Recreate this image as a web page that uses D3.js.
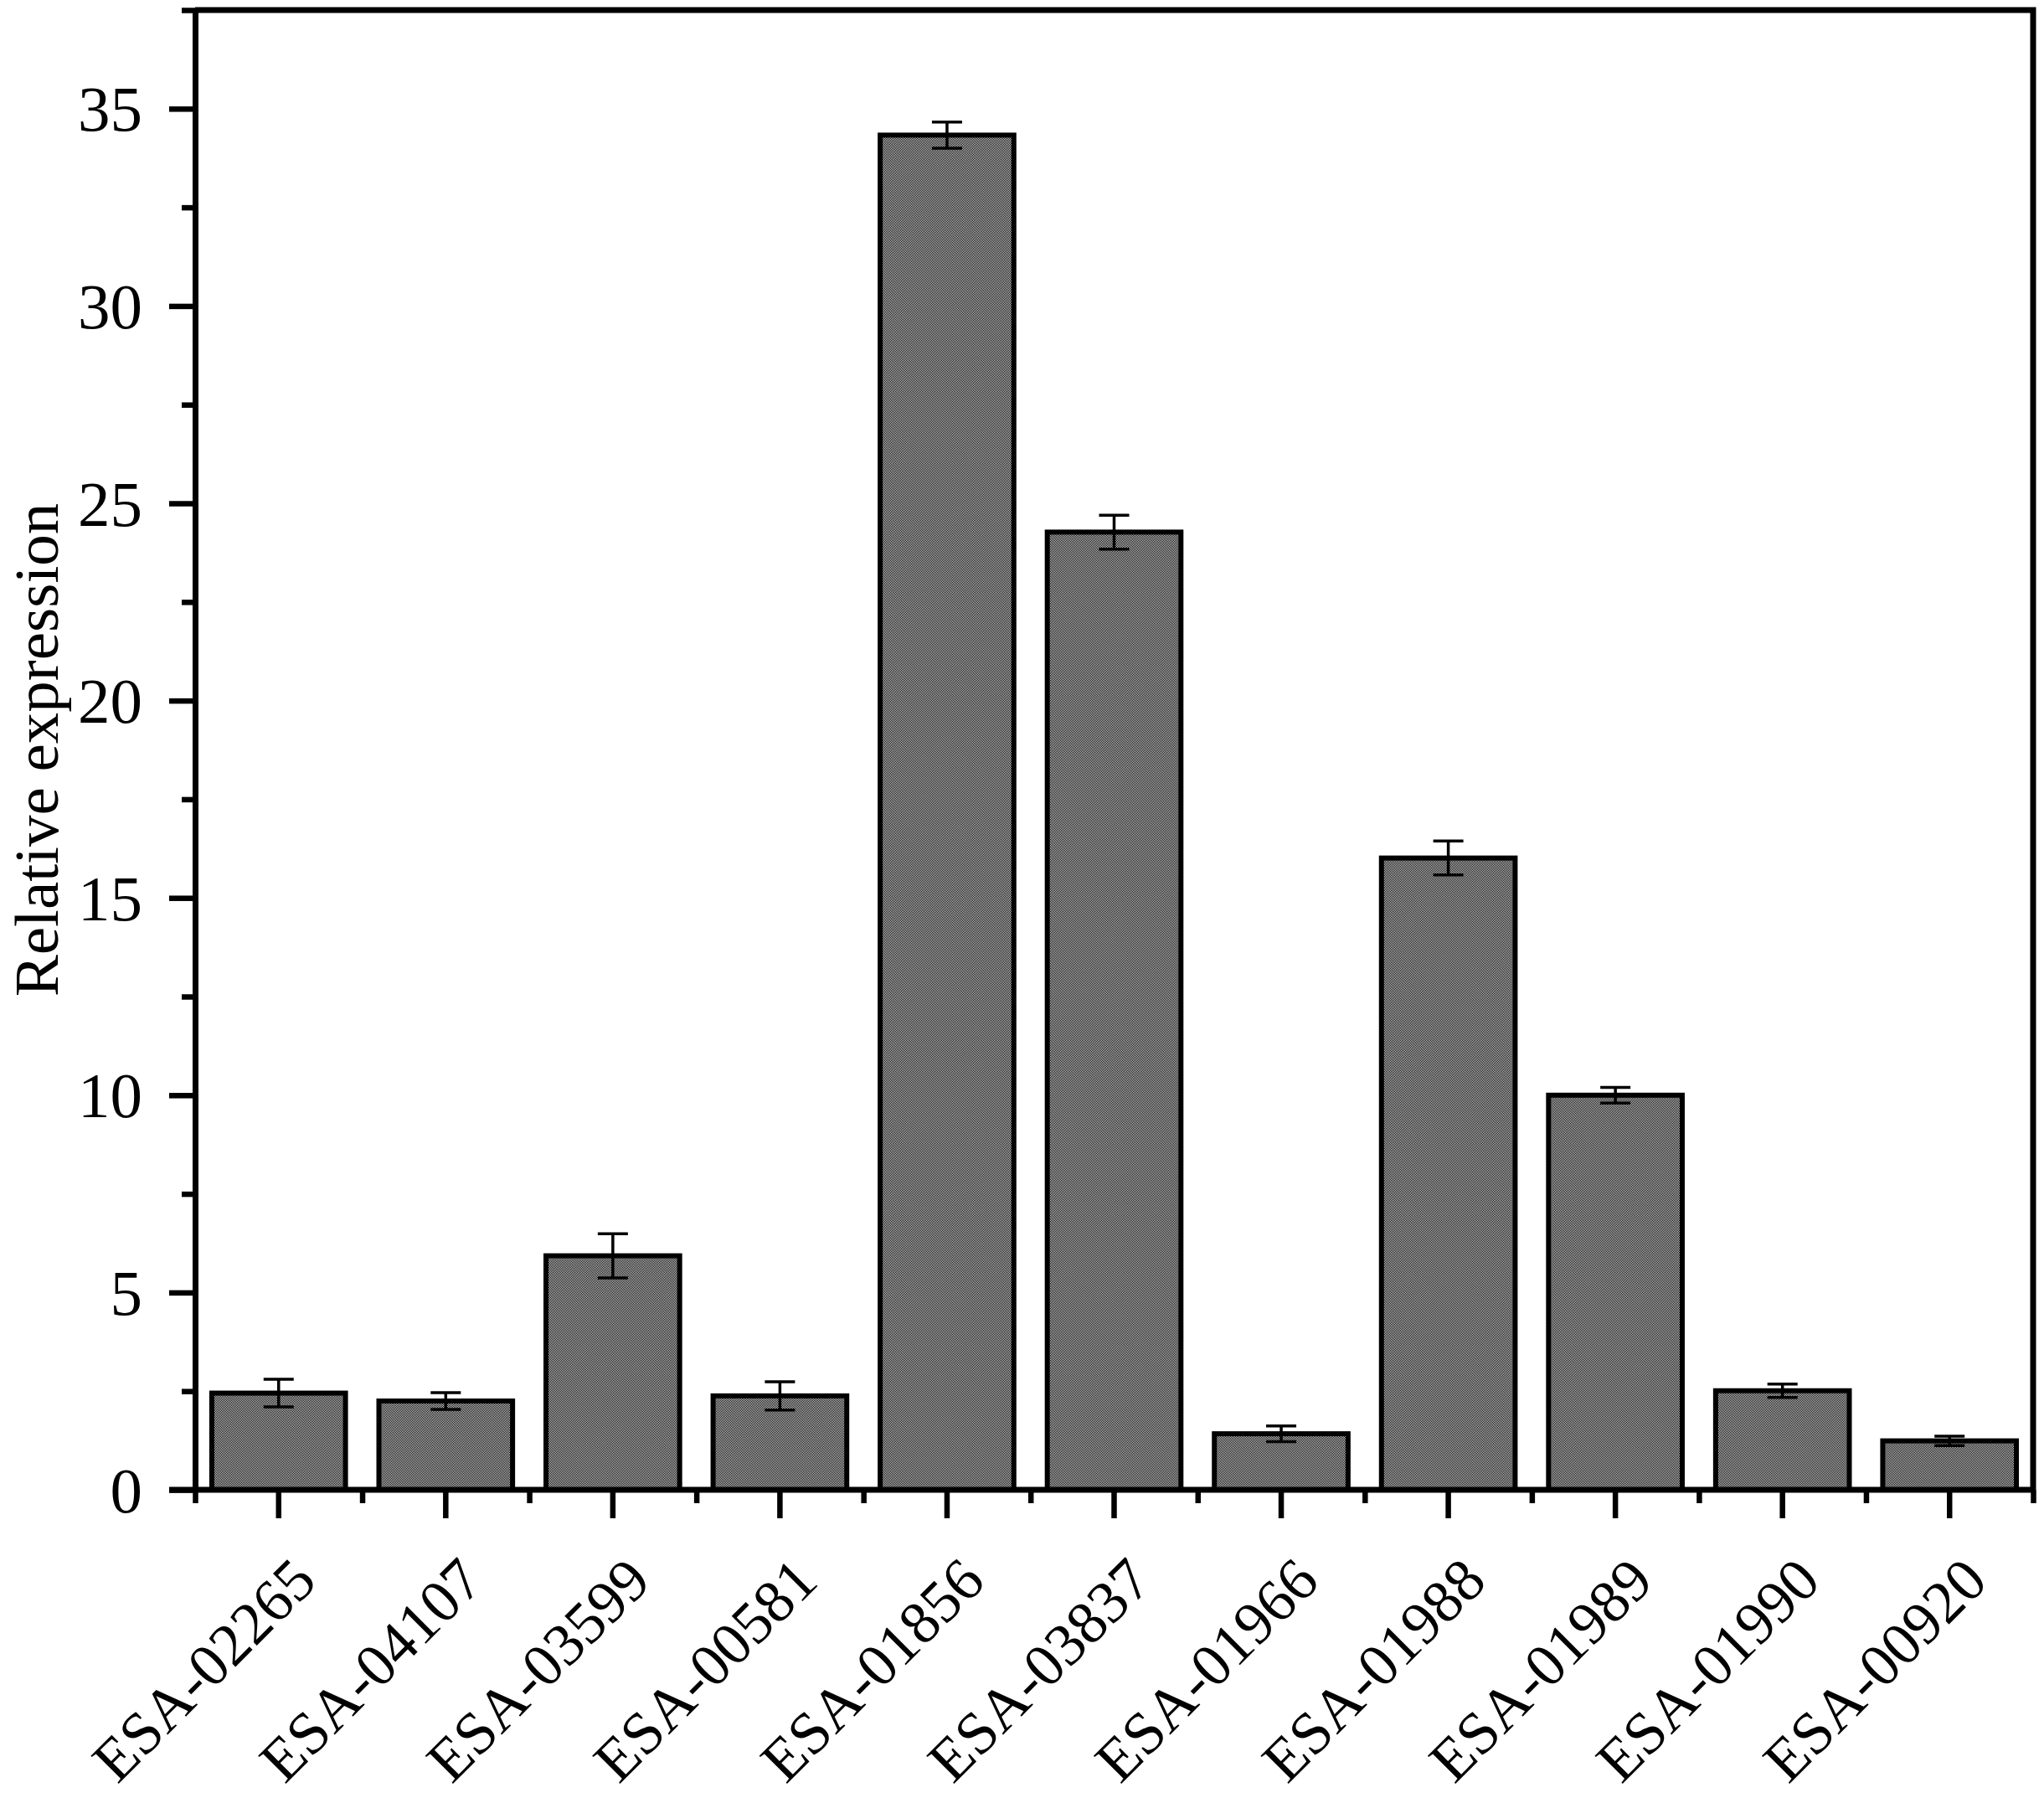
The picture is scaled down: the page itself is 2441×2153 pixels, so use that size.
<!DOCTYPE html>
<html>
<head>
<meta charset="utf-8">
<script src="https://cdn.jsdelivr.net/npm/d3@7"></script>
<style>
  body { margin: 0; background: #fff; }
  svg { display: block; }
</style>
</head>
<body>
<script>
// data
var genes = ["ESA-02265", "ESA-04107", "ESA-03599", "ESA-00581", "ESA-01856", "ESA-03837",
             "ESA-01966", "ESA-01988", "ESA-01989", "ESA-01990", "ESA-00920"];
var means = [2.45, 2.25, 5.93, 2.38, 34.33, 24.27, 1.42, 16.01, 10.0, 2.51, 1.24];
var errs  = [0.35, 0.21, 0.56, 0.36, 0.33, 0.43, 0.2, 0.43, 0.2, 0.17, 0.12];
var yMajor = [0, 5, 10, 15, 20, 25, 30, 35];
var yMinor = [2.5, 7.5, 12.5, 17.5, 22.5, 27.5, 32.5, 37.5];
var yTitle = "Relative expression";

var W = 2441, H = 2153;
var plotL = 233, plotR = 2428, plotT = 12, plotB = 1779;
var serif = "'Liberation Serif', 'Times New Roman', serif";

var data = genes.map(function(g, i) { return {gene: g, mean: means[i], err: errs[i]}; });

var svg = d3.select("body").append("svg")
    .attr("width", W)
    .attr("height", H);

// checker fill like the origin pattern
var pat = svg.append("defs").append("pattern")
    .attr("id", "checker")
    .attr("patternUnits", "userSpaceOnUse")
    .attr("width", 2).attr("height", 2);
pat.append("rect").attr("width", 2).attr("height", 2).attr("fill", "#d8d8d8");
pat.append("rect").attr("width", 1).attr("height", 1).attr("fill", "#000");
pat.append("rect").attr("x", 1).attr("y", 1).attr("width", 1).attr("height", 1).attr("fill", "#000");

// scales
var x = d3.scaleBand()
    .domain(genes)
    .range([plotL, plotR])
    .paddingInner(0.2)
    .paddingOuter(0.1);

var xEdge = d3.scaleLinear()
    .domain([0, genes.length])
    .range([plotL, plotR]);

var y = d3.scaleLinear()
    .domain([0, 37.5])
    .range([plotB, plotT]);

// bars
svg.selectAll(".bar")
    .data(data)
  .enter().append("rect")
    .attr("class", "bar")
    .attr("x", function(d) { return x(d.gene); })
    .attr("y", function(d) { return y(d.mean); })
    .attr("width", x.bandwidth())
    .attr("height", function(d) { return y(0) - y(d.mean); })
    .attr("fill", "url(#checker)")
    .attr("stroke", "#000")
    .attr("stroke-width", 6);

// error bars
var eb = svg.selectAll(".err")
    .data(data)
  .enter().append("g")
    .attr("class", "err")
    .attr("transform", function(d) { return "translate(" + (x(d.gene) + x.bandwidth() / 2) + ",0)"; })
    .attr("stroke", "#000")
    .attr("stroke-width", 3.5);
eb.append("line")
    .attr("y1", function(d) { return y(d.mean + d.err); })
    .attr("y2", function(d) { return y(d.mean - d.err); });
eb.append("line")
    .attr("x1", -18).attr("x2", 18)
    .attr("y1", function(d) { return y(d.mean + d.err); })
    .attr("y2", function(d) { return y(d.mean + d.err); });
eb.append("line")
    .attr("x1", -18).attr("x2", 18)
    .attr("y1", function(d) { return y(d.mean - d.err); })
    .attr("y2", function(d) { return y(d.mean - d.err); });

// frame top + right
svg.append("path")
    .attr("d", "M" + plotL + "," + plotT + "H" + plotR + "V" + plotB)
    .attr("fill", "none")
    .attr("stroke", "#000")
    .attr("stroke-width", 7);

// y axis
var yAxis = svg.append("g")
    .attr("transform", "translate(" + plotL + ",0)")
    .call(d3.axisLeft(y).tickValues(yMajor).tickSize(31).tickSizeOuter(0).tickPadding(32));
yAxis.select(".domain").attr("stroke-width", 7);
yAxis.selectAll(".tick line").attr("stroke-width", 6.5);
yAxis.selectAll(".tick text")
    .attr("font-family", serif)
    .attr("font-size", 77)
    .attr("dy", "0.34em");

var yMin = svg.append("g")
    .attr("transform", "translate(" + plotL + ",0)")
    .call(d3.axisLeft(y).tickValues(yMinor).tickSize(16).tickSizeOuter(0).tickFormat(""));
yMin.select(".domain").remove();
yMin.selectAll(".tick line").attr("stroke-width", 6.5);

// x axis
var xAxis = svg.append("g")
    .attr("transform", "translate(0," + plotB + ")")
    .call(d3.axisBottom(x).tickSize(34).tickSizeOuter(0));
xAxis.select(".domain").attr("stroke-width", 7)
    .attr("d", "M" + (plotL - 31) + ",0H" + (plotR + 3));
xAxis.selectAll(".tick line").attr("stroke-width", 6.5);
xAxis.selectAll(".tick text")
    .attr("font-family", serif)
    .attr("font-size", 72)
    .attr("x", 0).attr("y", 0).attr("dy", 0)
    .attr("text-anchor", "end")
    .attr("transform", "translate(48,112) rotate(-45)");

var xMin = svg.append("g")
    .attr("transform", "translate(0," + plotB + ")")
    .call(d3.axisBottom(xEdge).tickValues(d3.range(0, genes.length + 1)).tickSize(16).tickSizeOuter(0).tickFormat(""));
xMin.select(".domain").remove();
xMin.selectAll(".tick line").attr("stroke-width", 6.5);

// y title
svg.append("text")
    .attr("transform", "translate(69," + ((plotT + plotB) / 2) + ") rotate(-90)")
    .attr("text-anchor", "middle")
    .attr("font-family", serif)
    .attr("font-size", 75)
    .text(yTitle);
</script>
</body>
</html>
